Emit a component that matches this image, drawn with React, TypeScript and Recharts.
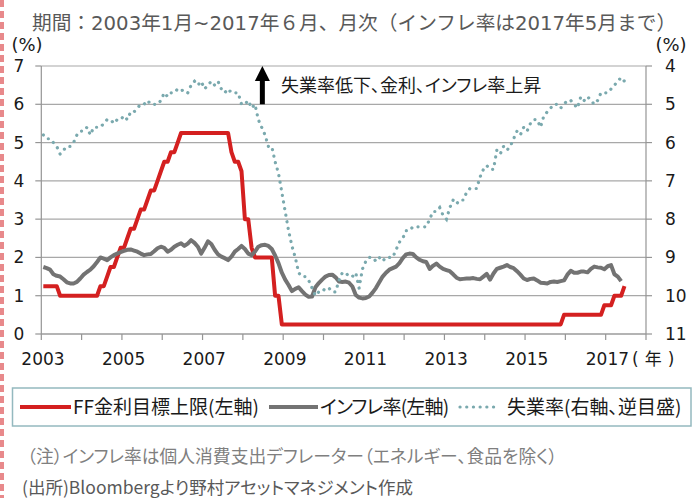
import React from "react";
import { CartesianGrid, Line, LineChart, ReferenceLine, XAxis, YAxis } from "recharts";

// monthly data, Jan 2003 = index 0
const START_YEAR = 2003;
const MONTH_OFFSET = 0.6;

const yearTicks = [2003, 2004, 2005, 2006, 2007, 2008, 2009, 2010, 2011, 2012, 2013, 2014, 2015, 2016, 2017, 2018];
const labelYears = [2003, 2005, 2007, 2009, 2011, 2013, 2015, 2017];
const leftTicks = [0, 1, 2, 3, 4, 5, 6, 7];
const rightTicks = [4, 5, 6, 7, 8, 9, 10, 11];

// FF金利目標上限 (%), Jan 2003 - Jun 2017
const ffRate = [
  1.25, 1.25, 1.25, 1.25, 1.25, 1.0, 1.0, 1.0, 1.0, 1.0, 1.0, 1.0,
  1.0, 1.0, 1.0, 1.0, 1.0, 1.25, 1.25, 1.5, 1.75, 1.75, 2.0, 2.25,
  2.25, 2.5, 2.75, 2.75, 3.0, 3.25, 3.25, 3.5, 3.75, 3.75, 4.0, 4.25,
  4.5, 4.5, 4.75, 4.75, 5.0, 5.25, 5.25, 5.25, 5.25, 5.25, 5.25, 5.25,
  5.25, 5.25, 5.25, 5.25, 5.25, 5.25, 5.25, 5.25, 4.75, 4.5, 4.5, 4.25,
  3.0, 3.0, 2.25, 2.0, 2.0, 2.0, 2.0, 2.0, 2.0, 1.0, 1.0, 0.25,
  0.25, 0.25, 0.25, 0.25, 0.25, 0.25, 0.25, 0.25, 0.25, 0.25, 0.25, 0.25,
  0.25, 0.25, 0.25, 0.25, 0.25, 0.25, 0.25, 0.25, 0.25, 0.25, 0.25, 0.25,
  0.25, 0.25, 0.25, 0.25, 0.25, 0.25, 0.25, 0.25, 0.25, 0.25, 0.25, 0.25,
  0.25, 0.25, 0.25, 0.25, 0.25, 0.25, 0.25, 0.25, 0.25, 0.25, 0.25, 0.25,
  0.25, 0.25, 0.25, 0.25, 0.25, 0.25, 0.25, 0.25, 0.25, 0.25, 0.25, 0.25,
  0.25, 0.25, 0.25, 0.25, 0.25, 0.25, 0.25, 0.25, 0.25, 0.25, 0.25, 0.25,
  0.25, 0.25, 0.25, 0.25, 0.25, 0.25, 0.25, 0.25, 0.25, 0.25, 0.25, 0.5,
  0.5, 0.5, 0.5, 0.5, 0.5, 0.5, 0.5, 0.5, 0.5, 0.5, 0.5, 0.75,
  0.75, 0.75, 1.0, 1.0, 1.0, 1.25,
];

// インフレ率 (%), Jan 2003 - May 2017
const inflation = [
  1.75, 1.72, 1.68, 1.56, 1.52, 1.5, 1.43, 1.35, 1.32, 1.32, 1.36, 1.45,
  1.55, 1.62, 1.68, 1.77, 1.88, 2.0, 1.97, 1.93, 2.0, 2.06, 2.1, 2.14,
  2.17, 2.2, 2.21, 2.18, 2.15, 2.1, 2.06, 2.08, 2.09, 2.16, 2.24, 2.28,
  2.25, 2.15, 2.2, 2.28, 2.33, 2.37, 2.3, 2.36, 2.45, 2.38, 2.28, 2.1,
  2.25, 2.42, 2.35, 2.2, 2.08, 2.02, 1.98, 1.93, 2.02, 2.15, 2.22, 2.3,
  2.22, 2.1, 2.06, 2.15, 2.28, 2.32, 2.33, 2.3, 2.22, 2.05, 1.85, 1.6,
  1.42, 1.28, 1.12, 1.18, 1.22, 1.12, 1.03, 0.97, 0.98, 1.22, 1.33, 1.42,
  1.5, 1.54, 1.55, 1.48, 1.37, 1.36, 1.37, 1.34, 1.24, 1.02, 0.95, 0.93,
  0.94, 0.98, 1.08, 1.2, 1.35, 1.5, 1.6, 1.68, 1.72, 1.76, 1.85, 1.98,
  2.08, 2.1, 2.09, 2.0, 1.94, 1.9, 1.88, 1.7, 1.78, 1.84, 1.76, 1.7,
  1.67, 1.64, 1.56, 1.47, 1.43, 1.44, 1.45, 1.45, 1.46, 1.44, 1.43, 1.5,
  1.57, 1.42, 1.58, 1.7, 1.73, 1.76, 1.8, 1.75, 1.72, 1.64, 1.55, 1.45,
  1.41, 1.44, 1.45, 1.4, 1.34, 1.33, 1.32, 1.36, 1.37, 1.36, 1.38, 1.4,
  1.55, 1.65, 1.6, 1.6, 1.63, 1.63, 1.61, 1.7, 1.76, 1.74, 1.73, 1.69,
  1.77, 1.8, 1.56, 1.5, 1.38,
];

// 失業率 (%), right axis reversed
const unemployment = [
  5.8, 5.9, 5.9, 6.0, 6.1, 6.3, 6.2, 6.1, 6.1, 6.0, 5.8, 5.7,
  5.7, 5.6, 5.8, 5.6, 5.6, 5.6, 5.5, 5.4, 5.4, 5.5, 5.4, 5.4,
  5.3, 5.4, 5.2, 5.2, 5.1, 5.0, 5.0, 4.9, 5.0, 5.0, 5.0, 4.9,
  4.7, 4.8, 4.7, 4.7, 4.6, 4.6, 4.7, 4.7, 4.5, 4.4, 4.5, 4.4,
  4.6, 4.5, 4.4, 4.5, 4.4, 4.6, 4.7, 4.6, 4.7, 4.7, 4.7, 5.0,
  5.0, 4.9, 5.1, 5.0, 5.4, 5.6, 5.8, 6.1, 6.1, 6.5, 6.8, 7.3,
  7.8, 8.3, 8.7, 9.0, 9.4, 9.5, 9.5, 9.6, 9.8, 10.0, 9.9, 9.9,
  9.8, 9.8, 9.9, 9.9, 9.6, 9.4, 9.4, 9.5, 9.5, 9.4, 9.8, 9.3,
  9.1, 9.0, 9.0, 9.1, 9.0, 9.1, 9.0, 9.0, 9.0, 8.8, 8.6, 8.5,
  8.3, 8.3, 8.2, 8.2, 8.2, 8.2, 8.2, 8.0, 7.8, 7.8, 7.7, 7.9,
  8.0, 7.7, 7.5, 7.6, 7.5, 7.5, 7.3, 7.2, 7.2, 7.2, 6.9, 6.7,
  6.6, 6.7, 6.7, 6.2, 6.3, 6.1, 6.2, 6.1, 5.9, 5.7, 5.8, 5.6,
  5.7, 5.5, 5.4, 5.4, 5.6, 5.3, 5.2, 5.1, 5.0, 5.0, 5.1, 5.0,
  4.9, 4.9, 5.0, 5.1, 4.8, 4.9, 4.8, 4.9, 5.0, 4.9, 4.7, 4.7,
  4.7, 4.6, 4.5, 4.4, 4.3, 4.4,
];

const data = ffRate.map((ff, i) => ({
  m: i,
  ff,
  infl: i < inflation.length ? inflation[i] : null,
  unemp: unemployment[i],
}));

const RED = "#d42020";
const GRAY = "#737373";
const TEAL = "#7aa9ae";
const GRID = "#a8a8a8";
const AXIS = "#959595";
const TEXT = "#1a1a1a";
const NUM_FONT = "'DejaVu Sans', 'Noto Sans CJK JP', sans-serif";
const JP_FONT = "'Noto Sans CJK JP', sans-serif";
const jpStyle = { fontFeatureSettings: '"palt"' } as React.CSSProperties;

function XTick(props: any) {
  const { x, y, payload } = props;
  const year = Math.round((payload.value + MONTH_OFFSET) / 12) + START_YEAR;
  if (!labelYears.includes(year)) return <g />;
  return (
    <text x={x + 1.7} y={y} dy={23} textAnchor="middle" fontSize={17} fill={TEXT} fontFamily={NUM_FONT}>
      {year}
    </text>
  );
}

function Arrow(props: any) {
  const { x1, y1, y2 } = props;
  const top = Math.min(y1, y2);
  const bottom = Math.max(y1, y2);
  const headH = 15;
  const headW = 7.5;
  return (
    <g>
      <line x1={x1} x2={x1} y1={bottom} y2={top + headH - 1} stroke="#000" strokeWidth={5} />
      <polygon points={`${x1 - headW},${top + headH} ${x1 + headW},${top + headH} ${x1},${top}`} fill="#000" />
    </g>
  );
}

export default function App() {
  return (
    <div style={{ position: "absolute", left: 0, top: 0, width: 695, height: 498, background: "#fff" }}>
      <LineChart width={695} height={498} data={data} margin={{ top: 66, right: 0, bottom: 134, left: 0 }}>
        <CartesianGrid yAxisId="left" vertical={false} stroke={GRID} strokeWidth={1.2} />
        <XAxis
          dataKey="m"
          type="number"
          domain={[-MONTH_OFFSET, 180 - MONTH_OFFSET]}
          ticks={yearTicks.map((y) => (y - START_YEAR) * 12 - MONTH_OFFSET)}
          interval={0}
          height={30}
          tickSize={6}
          stroke={AXIS}
          strokeWidth={1.2}
          tick={XTick}
          allowDataOverflow
        />
        <YAxis
          yAxisId="left"
          domain={[0, 7]}
          ticks={leftTicks}
          width={41.3}
          tickSize={6}
          tickMargin={11}
          stroke={AXIS}
          strokeWidth={1.2}
          tick={{ fontSize: 17, fill: TEXT, fontFamily: NUM_FONT }}
        />
        <YAxis
          yAxisId="right"
          orientation="right"
          reversed
          domain={[4, 11]}
          ticks={rightTicks}
          width={49}
          tickSize={6}
          tickMargin={13}
          stroke={AXIS}
          strokeWidth={1.2}
          tick={{ fontSize: 17, fill: TEXT, fontFamily: NUM_FONT, textAnchor: "start" }}
        />
        <Line
          yAxisId="left"
          dataKey="ff"
          type="linear"
          stroke={RED}
          strokeWidth={4}
          strokeLinejoin="round"
          dot={false}
          isAnimationActive={false}
        />
        <Line
          yAxisId="left"
          dataKey="infl"
          type="linear"
          stroke={GRAY}
          strokeWidth={4}
          strokeLinejoin="round"
          dot={false}
          isAnimationActive={false}
        />
        <Line
          yAxisId="right"
          dataKey="unemp"
          type="linear"
          stroke={TEAL}
          strokeWidth={3.2}
          strokeDasharray="0.1 6.6"
          strokeLinecap="round"
          dot={false}
          isAnimationActive={false}
        />
        <ReferenceLine
          yAxisId="left"
          segment={[
            { x: 65.2, y: 6 },
            { x: 65.2, y: 7 },
          ]}
          shape={Arrow}
        />
      </LineChart>

      <svg width={695} height={498} style={{ position: "absolute", left: 0, top: 0, pointerEvents: "none" }}>
        <line x1={2} x2={2} y1={0} y2={498} stroke="#e8898b" strokeWidth={4} strokeDasharray="7 4" />
        <text x={32} y={30} fontSize={19.7} fill="#595959" fontFamily={NUM_FONT}>
          期間：2003年1月~2017年６月、月次（インフレ率は2017年5月まで）
        </text>
        <text x={27} y={51} fontSize={18} fill={TEXT} fontFamily={NUM_FONT} textAnchor="middle">
          (%)
        </text>
        <text x={671} y={51} fontSize={18} fill={TEXT} fontFamily={NUM_FONT} textAnchor="middle">
          (%)
        </text>
        <text x={632} y={365} fontSize={17} fill={TEXT} fontFamily={NUM_FONT} letterSpacing={6}>
          (年)
        </text>
        <text x={281} y={91.5} fontSize={18} fill={TEXT} fontFamily={JP_FONT} style={jpStyle}>
          失業率低下、金利、インフレ率上昇
        </text>

        <rect x={12.5} y={388} width={678.5} height={38} fill="none" stroke="#94b9bf" strokeWidth={1.5} />
        <line x1={20} x2={71} y1={407} y2={407} stroke={RED} strokeWidth={4} />
        <text x={73} y={413.5} fontSize={19} fill={TEXT} fontFamily={JP_FONT} style={jpStyle}>
          FF金利目標上限(左軸)
        </text>
        <line x1={269} x2={318} y1={407} y2={407} stroke={GRAY} strokeWidth={4} />
        <text x={320} y={413.5} fontSize={19} fill={TEXT} fontFamily={JP_FONT} style={jpStyle} letterSpacing={-0.8}>
          インフレ率(左軸)
        </text>
        <line x1={460} x2={500} y1={407} y2={407} stroke={TEAL} strokeWidth={3.2} strokeDasharray="0.1 6.6" strokeLinecap="round" />
        <text x={507} y={413.5} fontSize={19} fill={TEXT} fontFamily={JP_FONT} style={jpStyle}>
          失業率(右軸、逆目盛)
        </text>

        <text x={27} y={463} fontSize={17.8} fill="#7f7f7f" fontFamily={JP_FONT} style={jpStyle}>
          （注）インフレ率は個人消費支出デフレーター（エネルギー、食品を除く）
        </text>
        <text x={22} y={494} fontSize={17.5} fill="#595959" fontFamily={JP_FONT} style={jpStyle}>
          (出所)Bloombergより野村アセットマネジメント作成
        </text>
      </svg>
    </div>
  );
}
